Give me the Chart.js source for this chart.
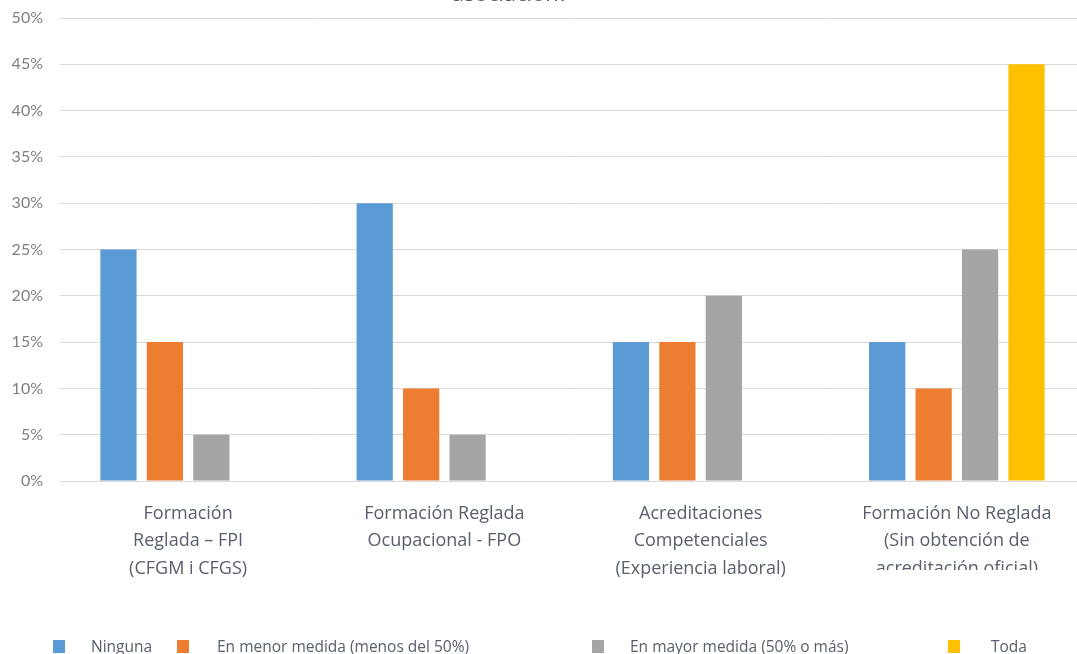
<!DOCTYPE html>
<html>
<head>
<meta charset="utf-8">
<script src="https://cdn.jsdelivr.net/npm/chart.js@4/dist/chart.umd.min.js"></script>
<style>
  html, body { margin: 0; padding: 0; background: #fff; overflow: hidden; }
  #wrap { position: relative; width: 1077px; height: 654px; overflow: hidden; }
  #chart { position: absolute; left: 0; top: 0; }
  #title { position: absolute; top: -20px; left: 310px; width: 400px; text-align: center;
           font: 22px "Open Sans", sans-serif; color: #595959; line-height: 24px; white-space: nowrap; }
  .leg { position: absolute; top: 635px; font: 15.5px "Open Sans", sans-serif; color: #58606e; white-space: nowrap; }
  .leg i { position: absolute; top: 5px; width: 12px; height: 13px; }
</style>
</head>
<body>
<div id="wrap">
  <canvas id="chart" width="1085" height="654"></canvas>
  <div id="title">asociación?</div>
  <div id="legend"></div>
</div>
<script>
// categories
const categories = [
  ["Formación", "Reglada – FPI", "(CFGM i CFGS)"],
  ["Formación Reglada", "Ocupacional - FPO"],
  ["Acreditaciones", "Competenciales", "(Experiencia laboral)"],
  ["Formación No Reglada", "(Sin obtención de", "acreditación oficial)"],
];

// series (percent)
const seriesNames = ["Ninguna", "En menor medida (menos del 50%)", "En mayor medida (50% o más)", "Toda"];
const ninguna = [25, 30, 15, 15];
const menor = [15, 10, 15, 10];
const mayor = [5, 5, 20, 25];
const toda = [null, null, null, 45];
const colors = ["#5B9BD5", "#ED7D31", "#A5A5A5", "#FFC000"];

// legend column positions (box x, text x) as in the original layout
const legendPos = [[53, 91], [177, 217], [592, 630], [948, 991]];

const seriesData = [ninguna, menor, mayor, toda];

// Excel clipped the last category label at the bottom
const clipLastLabel = {
  id: "clipLastLabel",
  afterDraw(chart) {
    const ctx = chart.ctx;
    const cx = chart.scales.x.getPixelForValue(categories.length - 1);
    ctx.save();
    ctx.fillStyle = "#fff";
    ctx.fillRect(cx - 120, 570, 240, 40);
    ctx.restore();
  },
};

new Chart(document.getElementById("chart"), {
  type: "bar",
  data: {
    labels: categories,
    datasets: seriesNames.map((name, i) => ({
      label: name,
      data: seriesData[i],
      backgroundColor: colors[i],
      borderWidth: 0,
      barPercentage: 0.78,
      categoryPercentage: 0.725,
    })),
  },
  options: {
    responsive: false,
    animation: false,
    layout: { padding: { top: 18, bottom: 73, left: 0, right: 0 } },
    plugins: {
      legend: { display: false },
      title: { display: false },
      tooltip: { enabled: false },
    },
    scales: {
      x: {
        grid: { display: false },
        border: { display: true, color: "#d9d9d9", width: 1 },
        ticks: {
          color: "#58606e",
          font: { family: "'Open Sans', sans-serif", size: 18, lineHeight: 1.53 },
          padding: 11,
          maxRotation: 0,
          autoSkip: false,
        },
        afterFit(scale) { scale.height = 100; },
      },
      y: {
        min: 0,
        max: 50,
        border: { display: false },
        grid: { color: "#d9d9d9", lineWidth: 1, drawTicks: false },
        ticks: {
          stepSize: 5,
          padding: 17,
          color: "#808080",
          font: { family: "Lato, sans-serif", size: 16 },
          callback: (v) => v + "%",
        },
        afterFit(scale) {
          scale.width = 60;
          scale.paddingTop = 0;
          scale.paddingBottom = 0;
        },
      },
    },
  },
  plugins: [clipLastLabel],
});

// legend
const legend = document.getElementById("legend");
seriesNames.forEach((name, i) => {
  const box = document.createElement("div");
  box.className = "leg";
  box.style.left = legendPos[i][0] + "px";
  box.innerHTML = '<i style="background:' + colors[i] + ';left:0"></i>' +
    '<span style="position:absolute;left:' + (legendPos[i][1] - legendPos[i][0]) + 'px">' + name + "</span>";
  legend.appendChild(box);
});
</script>
</body>
</html>
